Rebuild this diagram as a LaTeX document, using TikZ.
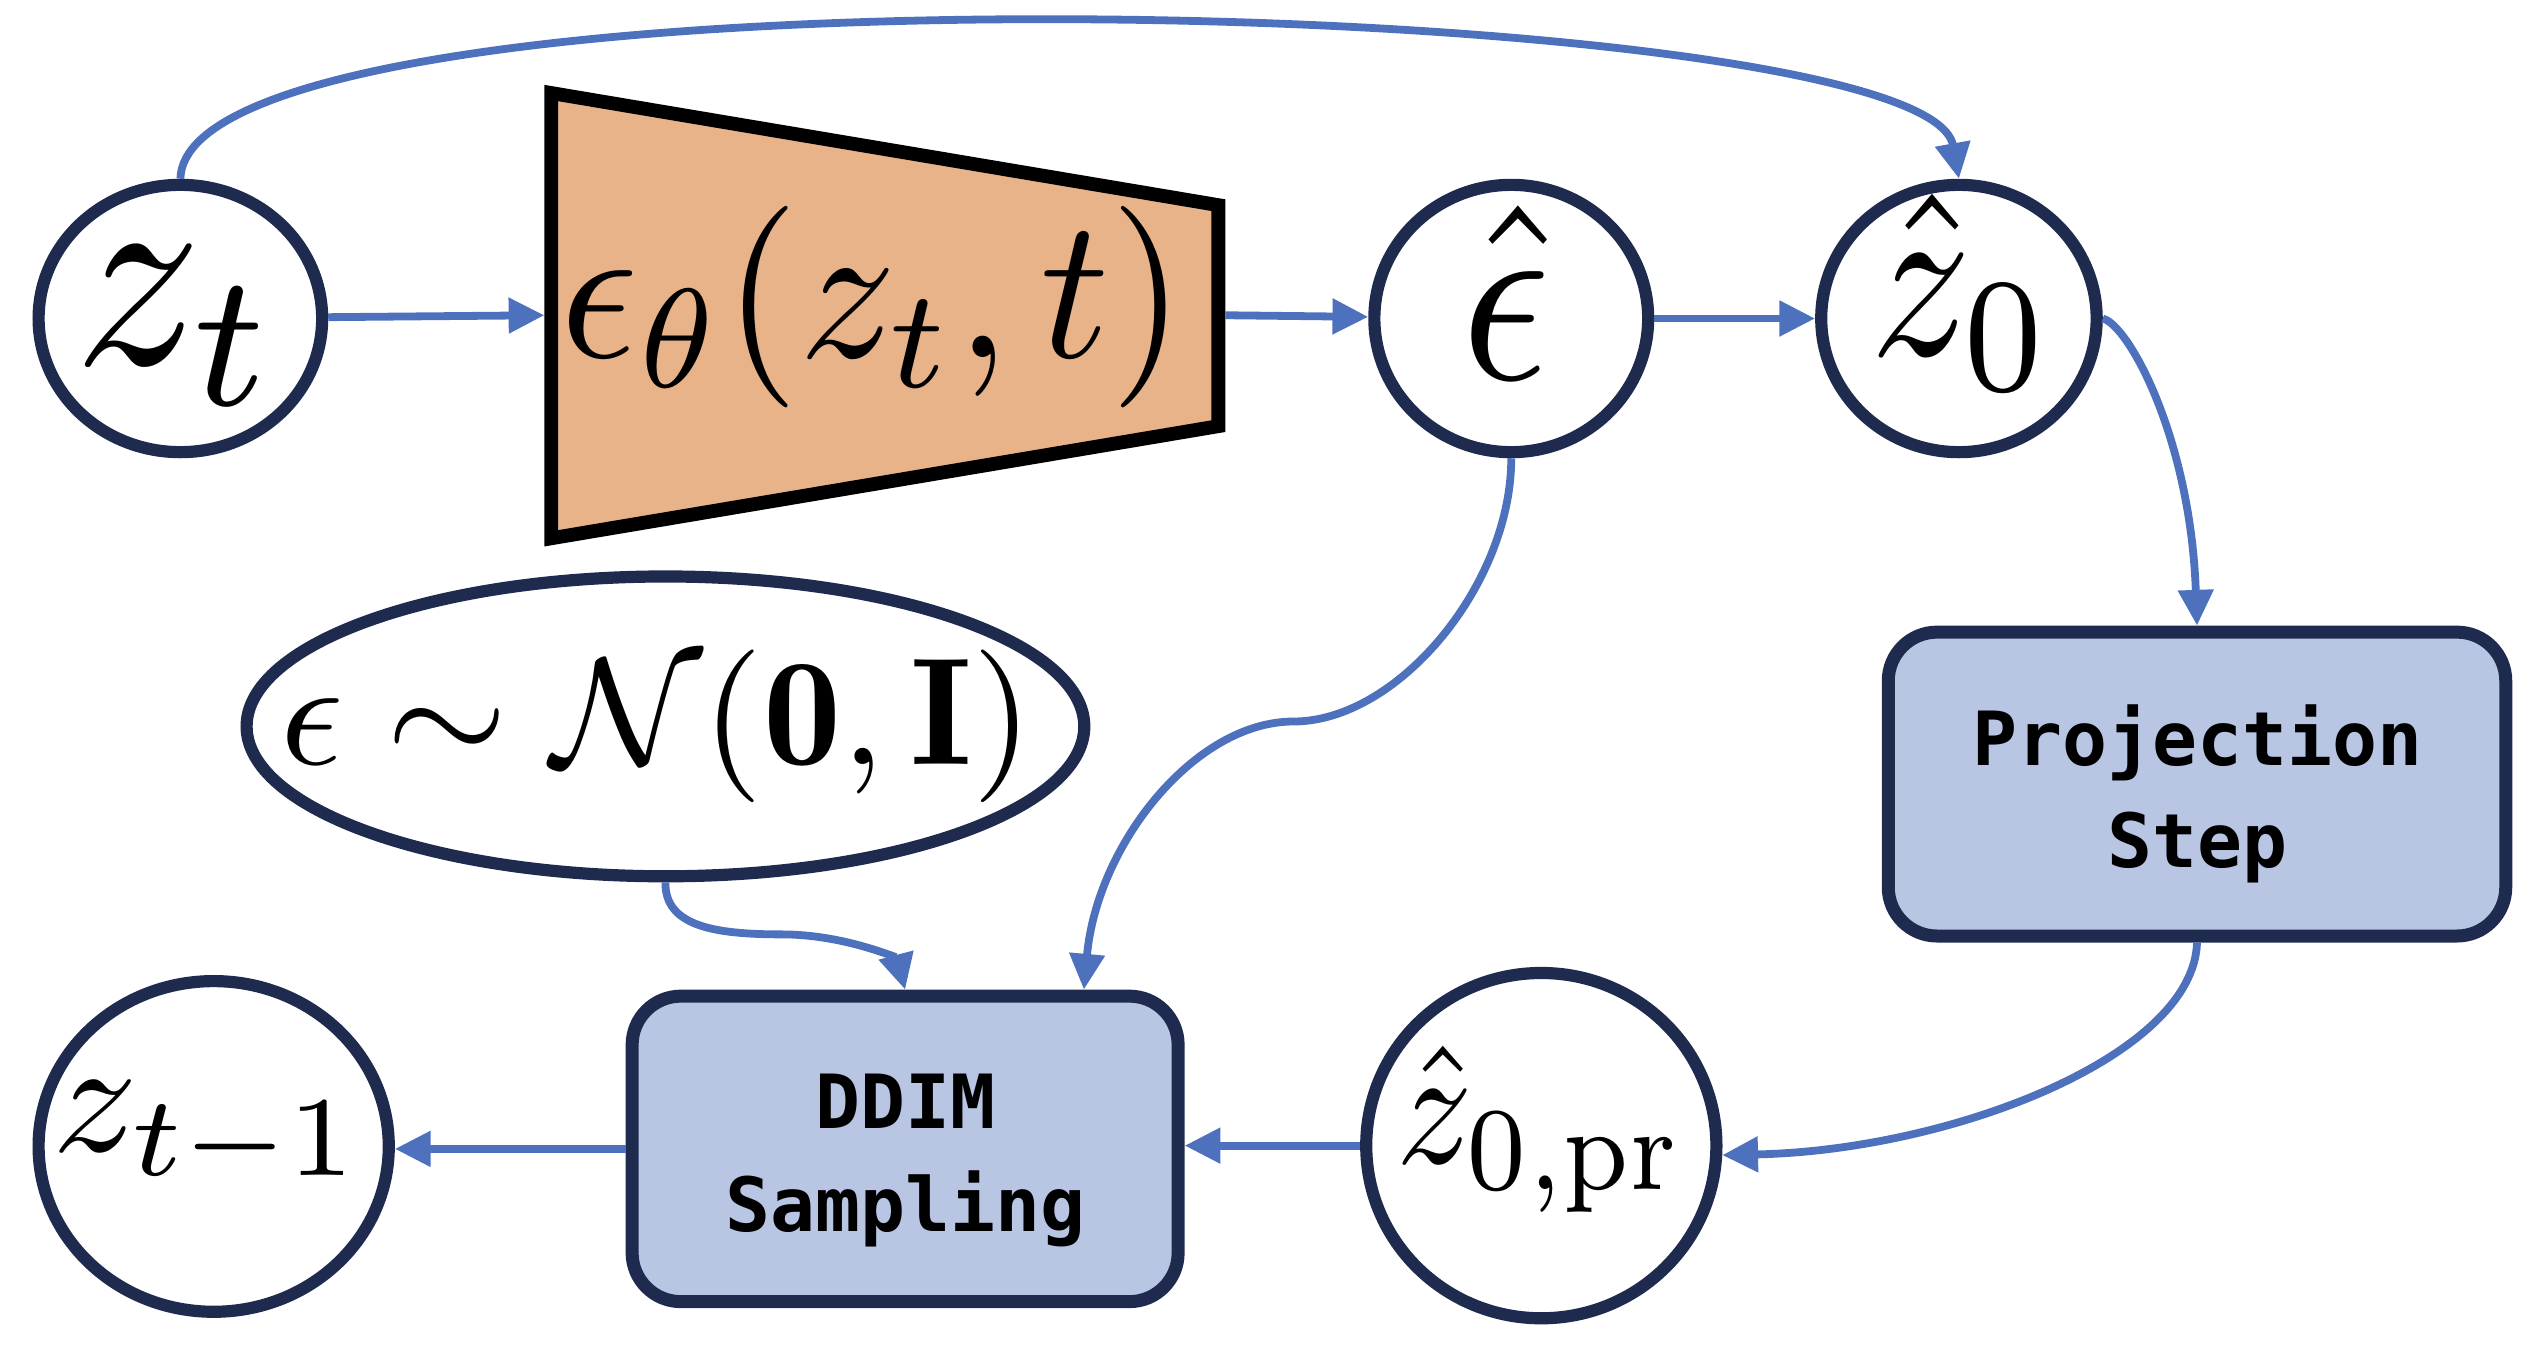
\documentclass[tikz,border=0pt]{standalone}
\usepackage{fontspec}
\usepackage{graphicx}
\usetikzlibrary{arrows.meta,shapes.geometric}
\newfontfamily\monofam{DejaVu Sans Mono}
\definecolor{ringcol}{HTML}{1E2B4F}
\definecolor{arrowcol}{HTML}{4E71BE}
\definecolor{boxfill}{HTML}{B8C6E3}
\definecolor{trapfill}{HTML}{E9B38A}
\tikzset{
  ring/.style={ellipse, draw=ringcol, line width=7.5pt, fill=white, inner sep=0pt},
  lbl/.style={inner sep=0pt},
  procbox/.style={rectangle, rounded corners=30pt, draw=ringcol, line width=8pt, fill=boxfill, inner sep=0pt},
  flow/.style={draw=arrowcol, line width=4.8pt, -{Triangle[length=22pt,width=21pt]}},
  boxtxt/.style={inner sep=0pt, align=center, font={\monofam\bfseries\fontsize{46}{63}\selectfont}},
}
\begin{document}
\begin{tikzpicture}[x=1pt,y=-1pt]
\useasboundingbox (0,0) rectangle (1568,829.5);

% trapezoid network
\filldraw[fill=trapfill, draw=black, line width=8.5pt, line join=miter]
  (339.25,57.25) -- (749.75,126.25) -- (749.75,262.25) -- (339.25,331.25) -- cycle;
\coordinate (trapL) at (335,194);
\coordinate (trapR) at (754,194);
\node[lbl] (epstheta) at (537,189) {\scalebox{11.8}[12.4]{$\epsilon_\theta(z_t, t)$}};

% round nodes
\node[ring, minimum width=174.5pt, minimum height=164.5pt] (zt) at (111,196) {};
\node[lbl] (ztlbl) at (109,201) {\scalebox{15.5}[16.8]{$z_t$}};

\node[ring, minimum width=168.5pt, minimum height=164.5pt] (epshat) at (930,196) {};
\node[lbl] (epshatlbl) at (927,180) {\scalebox{13.5}[15.4]{$\hat{\epsilon}$}};

\node[ring, minimum width=169.5pt, minimum height=164.5pt] (z0hat) at (1205.5,196) {};
\node[lbl] (z0hatlbl) at (1207,180) {\scalebox{12.3}[14.3]{$\hat{z}_0$}};

\node[ring, minimum width=515.5pt, minimum height=184.5pt] (noise) at (409.5,447) {};
\node[lbl] (noiselbl) at (404,447) {\scalebox{9.6}[9.4]{$\epsilon\sim\mathcal{N}(\mathbf{0},\mathbf{I})$}};

\node[ring, minimum width=215.5pt, minimum height=212.5pt] (z0pr) at (948.5,705) {};
\node[lbl] (z0prlbl) at (948,695) {\scalebox{9.3}[10.4]{$\hat{z}_{0,\mathrm{pr}}$}};

\node[ring, minimum width=215.5pt, minimum height=203.5pt] (ztm1) at (131.5,705.5) {};
\node[lbl] (ztm1lbl) at (128,698.5) {\scalebox{10.4}[10]{$z_{t-1}$}};

% process boxes
\node[procbox, minimum width=380pt, minimum height=187pt] (proj) at (1352,482.5) {};
\node[boxtxt] (projlbl) at (1352,488.5) {Projection\\Step};

\node[procbox, minimum width=336pt, minimum height=188pt] (ddim) at (557,707) {};
\node[boxtxt] (ddimlbl) at (557,714.2) {DDIM\\Sampling};

% connectors
\draw[flow] (zt) -- (trapL);
\draw[flow] (trapR) -- (epshat);
\draw[flow] (epshat) -- (z0hat);
\draw[flow] (zt.north) .. controls (115,-30) and (1185,-5) .. (z0hat.north);
\draw[flow] (z0hat.east) .. controls (1310,200) and (1348,270) .. (proj.north);
\draw[flow] (proj.south) .. controls (1350,650) and (1200,708) .. (z0pr.-3);
\draw[flow] (z0pr.west) -- (z0pr.west -| ddim.east);
\draw[flow] (ddim.west) -- (ddim.west -| ztm1.east);
\draw[flow] (epshat.south) .. controls (930,360) and (860,444) .. (796,444)
  .. controls (735,444) and (675,520) .. ([xshift=110pt]ddim.north);
\draw[flow] (noise.south) .. controls (409,570) and (440,575) .. (481,575)
  .. controls (520,575) and (552,590) .. (ddim.north);
\end{tikzpicture}
\end{document}
